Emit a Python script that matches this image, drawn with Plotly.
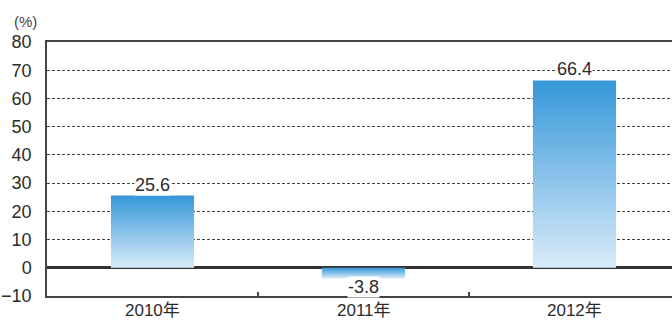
import plotly.graph_objects as go

categories = ["2010年", "2011年", "2012年"]
values = [25.6, -3.8, 66.4]
value_labels = ["25.6", "-3.8", "66.4"]
y_ticks = [-10, 0, 10, 20, 30, 40, 50, 60, 70, 80]

FONT = "Arial, Liberation Sans, Noto Sans CJK JP, sans-serif"
half_w = 0.197

fig = go.Figure()
for i, v in enumerate(values):
    xs = [i - half_w, i + half_w, i + half_w, i - half_w, i - half_w]
    ys = [0, 0, v, v, 0]
    fig.add_trace(go.Scatter(
        x=xs, y=ys, mode="lines", fill="toself",
        line=dict(width=0, color="rgba(0,0,0,0)"),
        fillgradient=dict(type="vertical",
                          colorscale=[[0, "#d9ebf9"], [1, "#3597d9"]]),
        hoverinfo="skip", showlegend=False,
    ))

for i, (v, t) in enumerate(zip(values, value_labels)):
    fig.add_annotation(
        x=i, y=v, text=t, showarrow=False,
        yanchor="bottom" if v >= 0 else "top",
        yshift=0 if v >= 0 else 3,
        bgcolor="white", borderpad=0,
        font=dict(family=FONT, size=18, color="#2b2b2b"),
    )

# category labels under the axis
for i, c in enumerate(categories):
    fig.add_annotation(
        x=i, xref="x", y=0, yref="paper", yshift=-14,
        text=c, showarrow=False, xanchor="center", yanchor="middle",
        font=dict(family=FONT, size=17, color="#2b2b2b"),
    )

fig.add_annotation(
    xref="paper", yref="paper", x=(12 - 47) / 625, y=1.0, yshift=21,
    text="(%)", showarrow=False, xanchor="left", yanchor="middle",
    font=dict(family=FONT, size=15, color="#444"),
)

fig.update_layout(
    width=672, height=320,
    margin=dict(l=47, r=0, t=42, b=24),
    paper_bgcolor="white", plot_bgcolor="white",
    xaxis=dict(
        range=[-0.5, -0.5 + 625 / 211], tickvals=[0, 1, 2],
        showticklabels=False,
        showgrid=False, zeroline=False, showline=True, mirror=True,
        linecolor="#444", linewidth=1.5, ticks="",
        automargin=False,
        minor=dict(tickvals=[0.5, 1.5], ticks="inside", ticklen=4,
                   tickcolor="#444", tickwidth=1.5, showgrid=False),
    ),
    yaxis=dict(
        range=[-10, 80], tickvals=y_ticks, showgrid=True,
        gridcolor="#444", griddash="3px,2px", gridwidth=1.3,
        zeroline=True, zerolinecolor="#333", zerolinewidth=2.5,
        showline=True, linecolor="#444", linewidth=1.5, mirror=False,
        ticks="", ticklabelstandoff=10, automargin=False,
        tickfont=dict(family=FONT, size=18, color="#2b2b2b"),
    ),
)

fig.write_html("out.html")
